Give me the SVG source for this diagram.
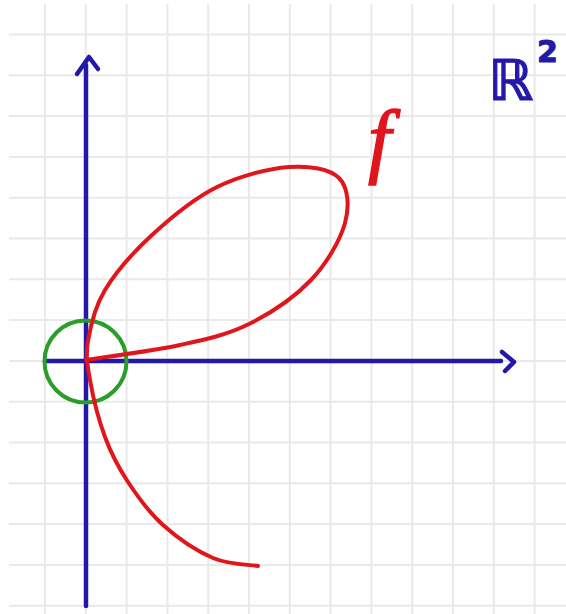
<svg xmlns="http://www.w3.org/2000/svg" width="566" height="614" viewBox="0 0 566 614">
<style>
.grid line{stroke:#e9e9e9;stroke-width:2}
.axis{stroke:#2418a8;stroke-width:4.5;fill:none;stroke-linecap:round;stroke-linejoin:round}
.curve{stroke:#e0161c;stroke-width:4;fill:none;stroke-linecap:round;stroke-linejoin:round}
</style>
<rect width="566" height="614" fill="#ffffff"/>
<g id="grid" class="grid">
<line x1="45" y1="4" x2="45" y2="614"/>
<line x1="85.8" y1="4" x2="85.8" y2="614"/>
<line x1="126.6" y1="4" x2="126.6" y2="614"/>
<line x1="167.4" y1="4" x2="167.4" y2="614"/>
<line x1="208.2" y1="4" x2="208.2" y2="614"/>
<line x1="249" y1="4" x2="249" y2="614"/>
<line x1="289.8" y1="4" x2="289.8" y2="614"/>
<line x1="330.6" y1="4" x2="330.6" y2="614"/>
<line x1="371.4" y1="4" x2="371.4" y2="614"/>
<line x1="412.2" y1="4" x2="412.2" y2="614"/>
<line x1="453" y1="4" x2="453" y2="614"/>
<line x1="493.8" y1="4" x2="493.8" y2="614"/>
<line x1="534.6" y1="4" x2="534.6" y2="614"/>
<line x1="9" y1="34.5" x2="566" y2="34.5"/>
<line x1="9" y1="75.3" x2="566" y2="75.3"/>
<line x1="9" y1="116.1" x2="566" y2="116.1"/>
<line x1="9" y1="156.9" x2="566" y2="156.9"/>
<line x1="9" y1="197.7" x2="566" y2="197.7"/>
<line x1="9" y1="238.5" x2="566" y2="238.5"/>
<line x1="9" y1="279.3" x2="566" y2="279.3"/>
<line x1="9" y1="320.1" x2="566" y2="320.1"/>
<line x1="9" y1="360.9" x2="566" y2="360.9"/>
<line x1="9" y1="401.7" x2="566" y2="401.7"/>
<line x1="9" y1="442.5" x2="566" y2="442.5"/>
<line x1="9" y1="483.3" x2="566" y2="483.3"/>
<line x1="9" y1="524.1" x2="566" y2="524.1"/>
<line x1="9" y1="564.9" x2="566" y2="564.9"/>
<line x1="9" y1="605.7" x2="566" y2="605.7"/>
</g>
<g id="axes">
<path class="axis" d="M86 606 L86 65"/>
<path class="axis" d="M77 74 L89 57 L98 69"/>
<path class="axis" d="M45 361 L501 361"/>
<path class="axis" d="M502 352 L514 362 L505 371"/>
</g>
<g id="neighborhood">
<circle cx="85.5" cy="361.5" r="41" fill="none" stroke="#2a9e2a" stroke-width="4"/>
</g>
<g id="curve">
<path class="curve" d="M86 360 C101.7 357.5 152.8 351 180 345 C207.2 339 227.2 334.8 249 324 C270.8 313.2 295 296.8 311 280 C327 263.2 340.3 240 345 223 C349.7 206 348.3 187.3 339 178 C329.7 168.7 309.3 165.5 289 167 C268.7 168.5 239.8 175.7 217 187 C194.2 198.3 170.7 217.8 152 235 C133.3 252.2 115.7 272.3 105 290 C94.3 307.7 90.5 326 88 341 C85.5 356 87.2 364 90 380 C92.8 396 98.7 420 105 437 C111.3 454 118.3 467.3 128 482 C137.7 496.7 148.8 512.3 163 525 C177.2 537.7 197.2 551.2 213 558 C228.8 564.8 250.5 564.7 258 566"/>
</g>
<g id="labels">
<text x="368" y="167" font-family="Liberation Serif, serif" font-style="italic" font-size="82" fill="#e0161c" stroke="#e0161c" stroke-width="1.5">f</text>
<text x="488" y="100" font-family="DejaVu Sans, sans-serif" font-weight="bold" font-size="56" fill="#2418a8" stroke="#2418a8" stroke-width="1">ℝ<tspan dx="4" dy="-38" font-size="30">2</tspan></text>
</g>
</svg>
